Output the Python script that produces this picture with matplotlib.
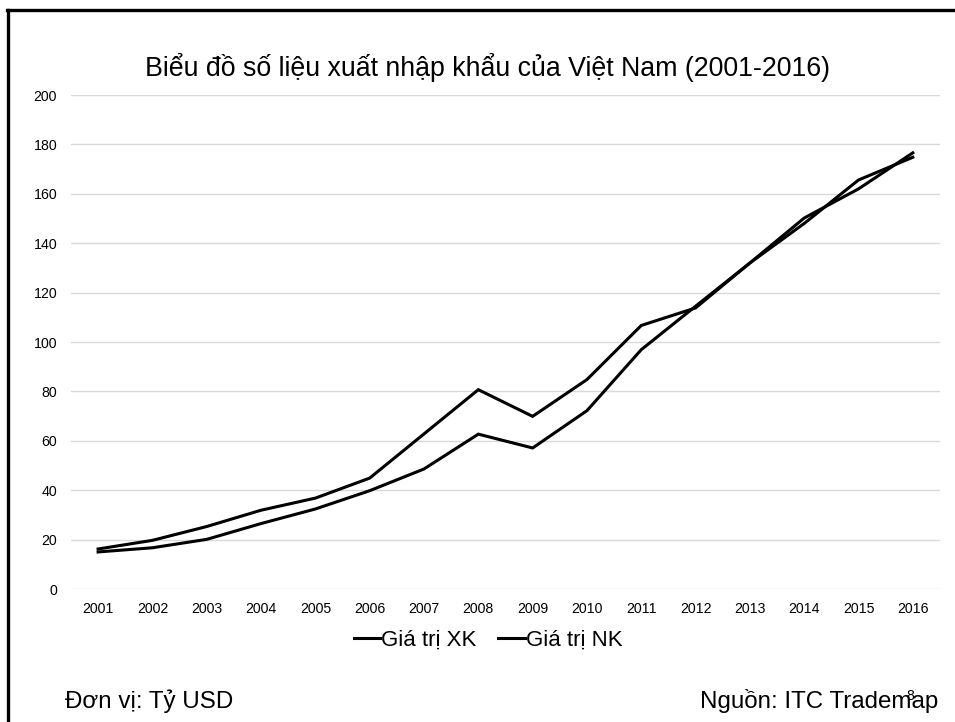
import matplotlib
matplotlib.use("Agg")
import matplotlib.pyplot as plt
from matplotlib.lines import Line2D

plt.rcParams['font.family'] = ['Liberation Sans', 'DejaVu Sans']

years = ["2001", "2002", "2003", "2004", "2005", "2006", "2007", "2008",
         "2009", "2010", "2011", "2012", "2013", "2014", "2015", "2016"]
# export (XK) and import (NK) values, billion USD
xk = [15.0, 16.7, 20.1, 26.5, 32.4, 39.8, 48.6, 62.7,
      57.1, 72.2, 96.9, 114.5, 132.0, 150.2, 162.0, 176.6]
nk = [16.2, 19.7, 25.3, 31.9, 36.8, 44.9, 62.8, 80.7,
      69.9, 84.8, 106.7, 113.8, 132.0, 148.0, 165.6, 174.8]
yticks = [0, 20, 40, 60, 80, 100, 120, 140, 160, 180, 200]

fig = plt.figure(figsize=(9.55, 7.22), dpi=100)
ax = fig.add_axes([0.0743, 0.1842, 0.9100, 0.6842])

pos = list(range(len(years)))
ax.plot(pos, xk, color='black', lw=2.2, label='Giá trị XK', solid_joinstyle='miter')
ax.plot(pos, nk, color='black', lw=2.2, label='Giá trị NK', solid_joinstyle='miter')

ax.set_xlim(-0.5, len(years) - 0.5)
ax.set_ylim(0, 200)
ax.set_xticks(pos)
ax.set_xticklabels(years)
ax.set_yticks(yticks)
ax.tick_params(length=0, labelsize=10.2, colors='#000000')
ax.tick_params(axis='y', pad=10)
ax.tick_params(axis='x', pad=9)
ax.grid(axis='y', color='#d9d9d9', lw=1)
ax.set_axisbelow(True)
for s in ax.spines.values():
    s.set_visible(False)

fig.text(0.51, 0.907, 'Biểu đồ số liệu xuất nhập khẩu của Việt Nam (2001-2016)',
         ha='center', va='center', fontsize=19.3)

fig.legend(loc='center', bbox_to_anchor=(0.511, 0.113), ncol=2, frameon=False,
           fontsize=16, handlelength=1.2, handletextpad=0.02, columnspacing=1.0)

fig.text(0.068, 0.029, 'Đơn vị: Tỷ USD', ha='left', va='center', fontsize=17.4)
fig.text(0.982, 0.029, 'Nguồn: ITC Trademap', ha='right', va='center', fontsize=17.4)
fig.text(0.953, 0.036, '8', ha='center', va='center', fontsize=10)

# slide frame: top and left edges only
fig.add_artist(Line2D([0.0075, 1.0], [0.9862, 0.9862], color='black', lw=2.4,
                      transform=fig.transFigure))
fig.add_artist(Line2D([0.0084, 0.0084], [0.0, 0.9862], color='black', lw=2.4,
                      transform=fig.transFigure))

fig.savefig('out.png', dpi=100)
